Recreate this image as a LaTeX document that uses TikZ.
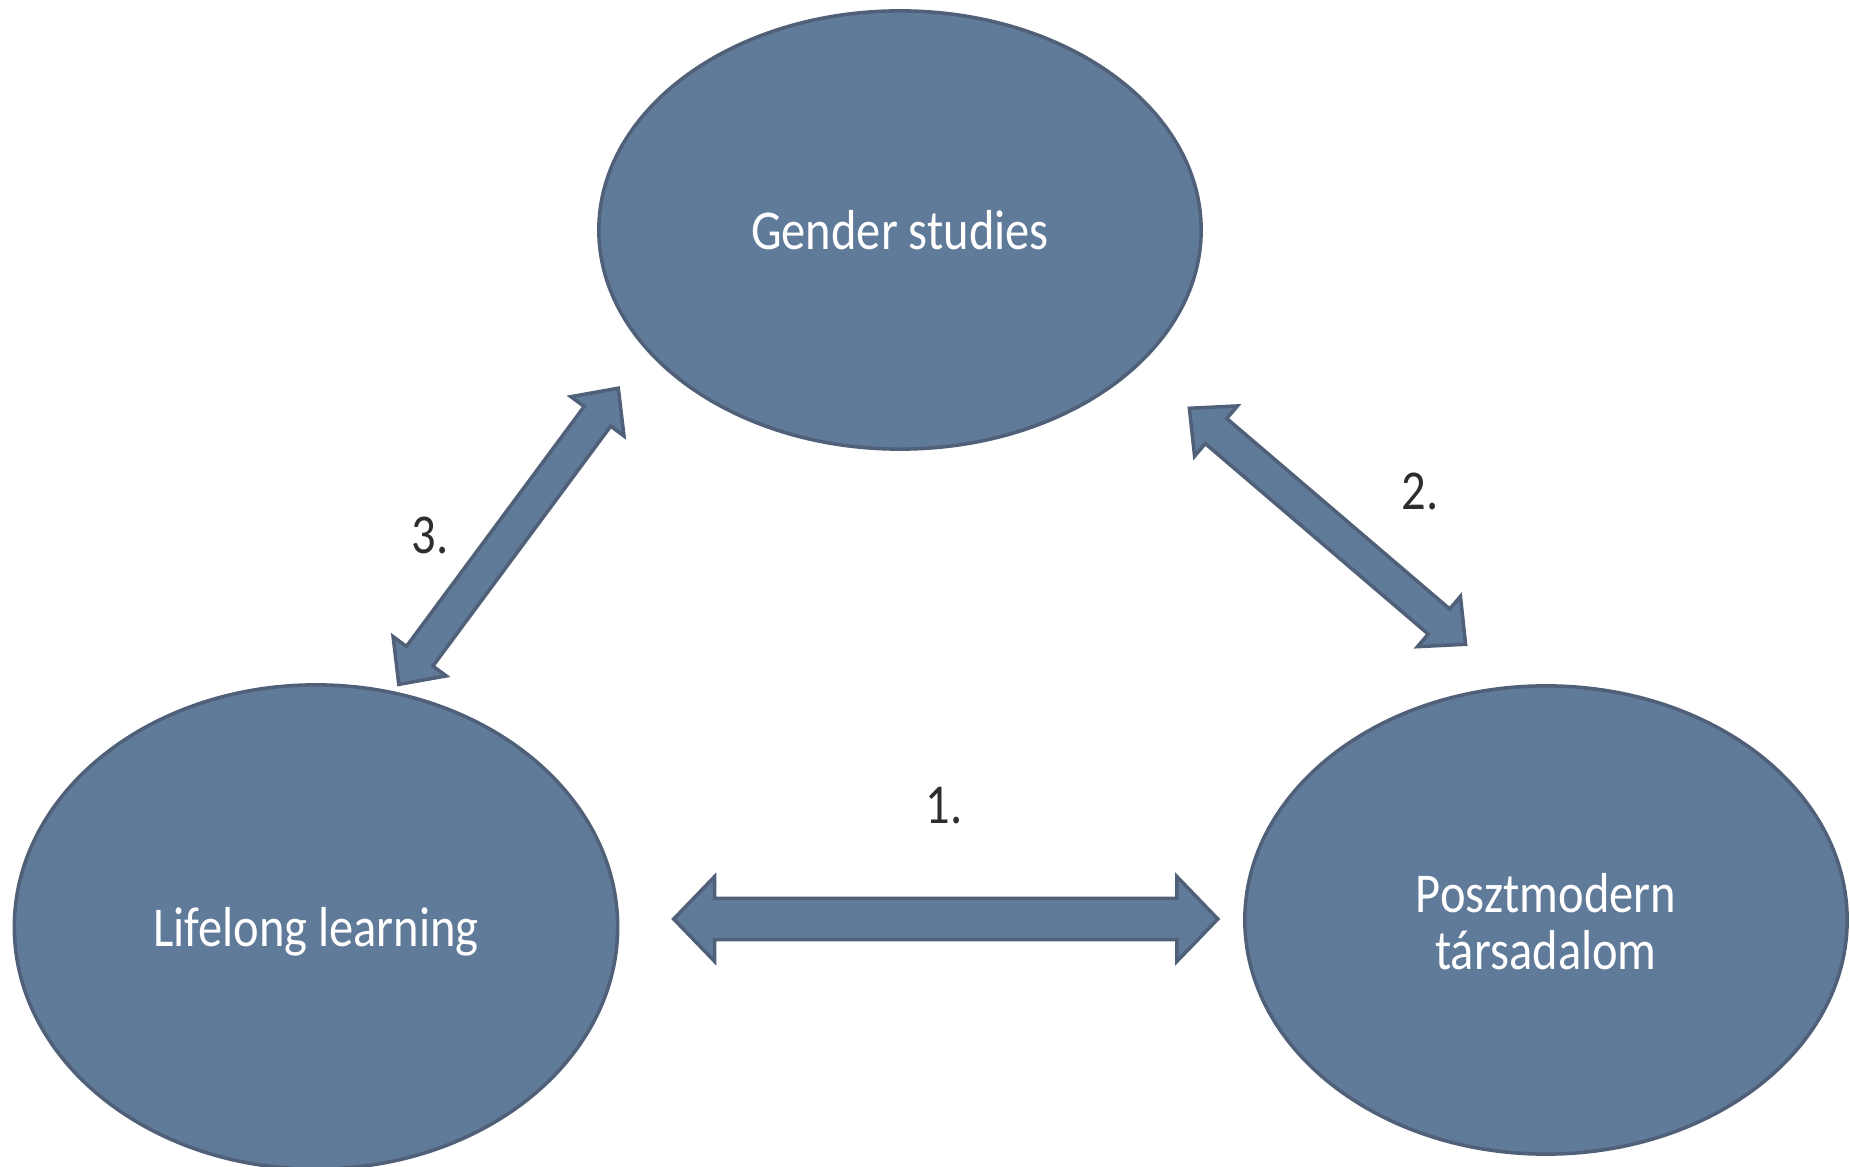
\documentclass[tikz,border=0pt]{standalone}
\usepackage{fontspec}
\setmainfont{Carlito}
\usetikzlibrary{shapes.geometric,calc}
\definecolor{nodefill}{RGB}{96,122,153}
\definecolor{nodeline}{RGB}{79,96,120}
\definecolor{numcol}{RGB}{45,45,45}
\newcommand{\blockarrow}[5]{% A, B, head length, head half width, shaft half width
  \draw[barrow] (#1)
    -- ($(#1)!#3!(#2)!#4!90:(#2)$)
    -- ($(#1)!#3!(#2)!#5!90:(#2)$)
    -- ($(#2)!#3!(#1)!#5!90:(#2)$)
    -- ($(#2)!#3!(#1)!#4!90:(#2)$)
    -- (#2)
    -- ($(#2)!#3!(#1)!#4!-90:(#2)$)
    -- ($(#2)!#3!(#1)!#5!-90:(#2)$)
    -- ($(#1)!#3!(#2)!#5!-90:(#2)$)
    -- ($(#1)!#3!(#2)!#4!-90:(#2)$)
    -- cycle;}
\tikzset{
  bubble/.style={ellipse, fill=nodefill, draw=nodeline, line width=1pt, inner sep=0pt,
    text=white, font=\fontsize{13.8pt}{16.5pt}\selectfont, align=center},
  barrow/.style={fill=nodefill, draw=nodeline, line width=1pt, line join=miter},
  numlabel/.style={text=numcol, font=\fontsize{13.8pt}{16.5pt}\selectfont, inner sep=0pt}
}
\begin{document}
\begin{tikzpicture}[x=0.01cm, y=-0.01cm]
\useasboundingbox (0,0) rectangle (1850,1167);
\node[bubble, minimum width=6.02cm, minimum height=4.38cm] (gender) at (900,230)
  {\scalebox{1}[1.16]{Gender studies}};
\node[bubble, minimum width=6.03cm, minimum height=4.84cm] (life) at (316,927)
  {\raisebox{0pt}[\dimexpr\height+2.8pt\relax]{\scalebox{1}[1.16]{Lifelong learning}}};
\node[bubble, minimum width=6.02cm, minimum height=4.68cm] (poszt) at (1546,920)
  {\raisebox{0pt}[\dimexpr\height+5.4pt\relax]{\scalebox{1}[1.16]{\def\arraystretch{0.84}\begin{tabular}{@{}c@{}}Posztmodern\\társadalom\end{tabular}}}};

\coordinate (a1l) at (673.7,919);
\coordinate (a1r) at (1217.8,919);
\coordinate (a2a) at (1189.4,408.3);
\coordinate (a2b) at (1465.6,644.3);
\coordinate (a3a) at (398.8,684.4);
\coordinate (a3b) at (618.3,388.2);

\blockarrow{a1l}{a1r}{0.41cm}{0.425cm}{0.205cm}
\blockarrow{a2a}{a2b}{0.35cm}{0.33cm}{0.165cm}
\blockarrow{a3a}{a3b}{0.35cm}{0.33cm}{0.165cm}

\node[numlabel] (n1) at (944,806) {\scalebox{1}[1.16]{1.}};
\node[numlabel] (n2) at (1420,491) {\scalebox{1}[1.16]{2.}};
\node[numlabel] (n3) at (430,535) {\scalebox{1}[1.16]{3.}};
\end{tikzpicture}
\end{document}
